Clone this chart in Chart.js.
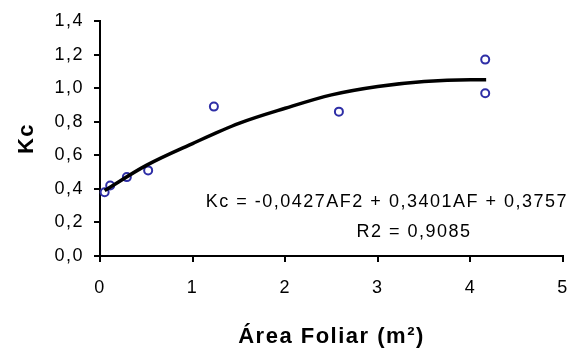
<!DOCTYPE html>
<html>
<head>
<meta charset="utf-8">
<script src="https://cdn.jsdelivr.net/npm/chart.js@4"></script>
<style>
  html, body { margin: 0; padding: 0; background: #fff; }
  #wrap { width: 571px; height: 348px; position: relative; }
</style>
</head>
<body>
<div id="wrap"><canvas id="kcChart"></canvas></div>
<script>
// Kc vs leaf area scatter with quadratic trend line

// observed points (leaf area m2, Kc)
const areaObs = [0.05, 0.11, 0.29, 0.52, 1.23, 2.58, 4.16, 4.16];
const kcObs = [0.38, 0.42, 0.47, 0.51, 0.89, 0.86, 1.17, 0.97];

// trend line
const areaFit = [0.05, 0.5, 1, 1.5, 2, 2.5, 3, 3.5, 4, 4.17];
const kcFit = [0.39, 0.54, 0.67, 0.79, 0.88, 0.96, 1.01, 1.04, 1.05, 1.05];

const yTicks = [0, 0.2, 0.4, 0.6, 0.8, 1.0, 1.2, 1.4];
const xTicks = [0, 1, 2, 3, 4, 5];

const equation = 'Kc = -0,0427AF2 + 0,3401AF + 0,3757';
const r2Text = 'R2 = 0,9085';

const FONT = '"Liberation Sans", Arial, sans-serif';
const SPACING = '1.5px';

function toPts(xs, ys) {
  return xs.map((x, i) => ({ x: x, y: ys[i] }));
}

// wide spacing like the old bitmap font of the source
const spacingPlugin = {
  id: 'spacing',
  beforeUpdate(chart) { chart.ctx.letterSpacing = SPACING; },
  beforeLayout(chart) { chart.ctx.letterSpacing = SPACING; },
  beforeDraw(chart) { chart.ctx.letterSpacing = SPACING; }
};

const equationPlugin = {
  id: 'equation',
  afterDraw(chart) {
    const ctx = chart.ctx;
    ctx.save();
    ctx.letterSpacing = SPACING;
    ctx.fillStyle = '#000';
    ctx.font = '18px ' + FONT;
    ctx.textBaseline = 'middle';
    ctx.textAlign = 'right';
    ctx.fillText(equation, 568, 202);
    ctx.textAlign = 'center';
    ctx.fillText(r2Text, 414, 232);
    ctx.restore();
  }
};

new Chart(document.getElementById('kcChart'), {
  type: 'scatter',
  data: {
    datasets: [
      {
        label: 'trend',
        data: toPts(areaFit, kcFit),
        showLine: true,
        borderColor: '#000',
        borderWidth: 3.5,
        pointRadius: 0,
        cubicInterpolationMode: 'monotone',
        fill: false
      },
      {
        label: 'Kc',
        data: toPts(areaObs, kcObs),
        pointStyle: 'circle',
        pointRadius: 4,
        borderWidth: 2,
        borderColor: '#2e2ea6',
        backgroundColor: 'rgba(0,0,0,0)'
      }
    ]
  },
  options: {
    responsive: true,
    maintainAspectRatio: false,
    animation: false,
    clip: false,
    layout: { padding: { left: 0, right: 8, top: 21, bottom: 0 } },
    plugins: {
      legend: { display: false },
      tooltip: { enabled: false }
    },
    scales: {
      x: {
        type: 'linear',
        min: 0,
        max: 5,
        afterBuildTicks(scale) { scale.ticks = xTicks.map(v => ({ value: v })); },
        afterFit(scale) {
          scale.height = 92;
          scale.paddingLeft = 0;
          scale.paddingRight = 0;
        },
        border: { color: '#000', width: 2 },
        grid: { drawOnChartArea: false, drawTicks: true, tickLength: 6, color: '#000', lineWidth: 2 },
        ticks: {
          color: '#000',
          padding: 15,
          font: { family: FONT, size: 18 },
          maxRotation: 0,
          callback: v => String(v)
        },
        title: {
          display: true,
          text: 'Área Foliar (m²)',
          color: '#000',
          font: { family: FONT, size: 22, weight: 'bold', lineHeight: 1 },
          padding: { top: 0, bottom: 0 }
        }
      },
      y: {
        type: 'linear',
        min: 0,
        max: 1.4,
        afterBuildTicks(scale) { scale.ticks = yTicks.map(v => ({ value: v })); },
        afterFit(scale) {
          scale.width = 100;
          scale.paddingTop = 0;
          scale.paddingBottom = 0;
        },
        border: { color: '#000', width: 2 },
        grid: { drawOnChartArea: false, drawTicks: true, tickLength: 6, color: '#000', lineWidth: 2 },
        ticks: {
          color: '#000',
          padding: 10,
          font: { family: FONT, size: 18 },
          callback: v => v.toFixed(1).replace('.', ',')
        },
        title: {
          display: true,
          text: 'Kc',
          color: '#000',
          font: { family: FONT, size: 22, weight: 'bold', lineHeight: 1 },
          padding: { top: 16, bottom: 0 }
        }
      }
    }
  },
  plugins: [spacingPlugin, equationPlugin]
});
</script>
</body>
</html>
